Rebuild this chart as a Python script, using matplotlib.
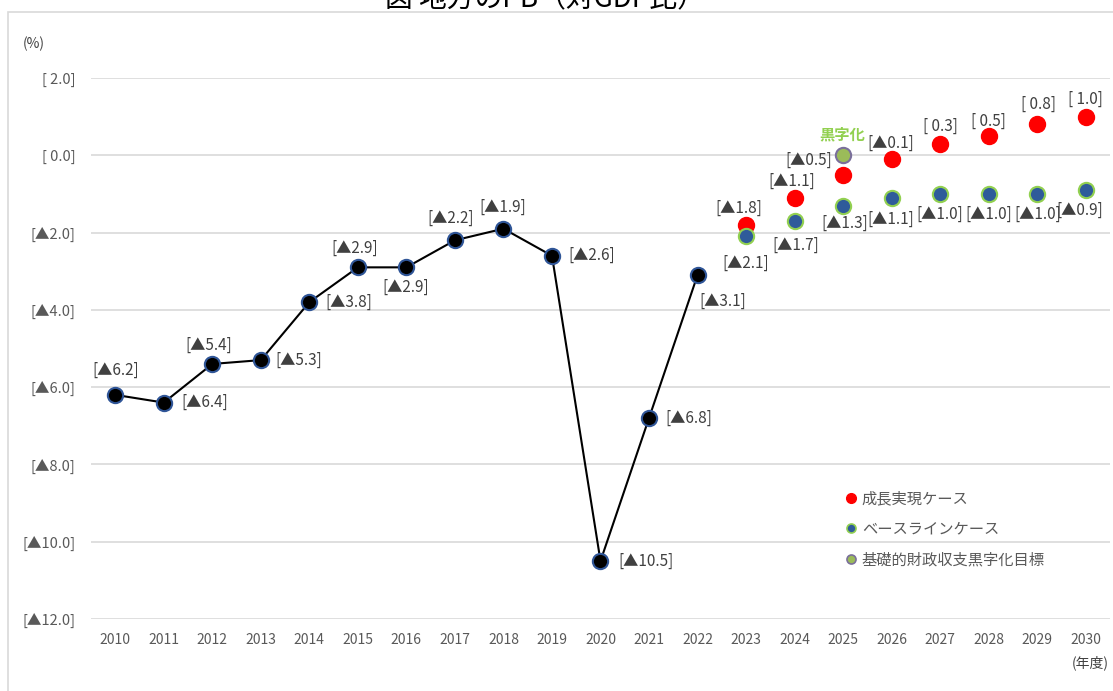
import matplotlib
matplotlib.use("Agg")
import matplotlib.pyplot as plt
from matplotlib.lines import Line2D
from matplotlib.patches import Rectangle

plt.rcParams['font.family'] = ['Noto Sans CJK JP', 'DejaVu Sans']

# ---- data ----
hist_years = list(range(2010, 2023))
hist_vals = [-6.2, -6.4, -5.4, -5.3, -3.8, -2.9, -2.9, -2.2, -1.9, -2.6, -10.5, -6.8, -3.1]
proj_years = list(range(2023, 2031))
growth_vals = [-1.8, -1.1, -0.5, -0.1, 0.3, 0.5, 0.8, 1.0]
base_vals = [-2.1, -1.7, -1.3, -1.1, -1.0, -1.0, -1.0, -0.9]
target_year = [2025]
target_val = [0.0]
legend_labels = ['成長実現ケース', 'ベースラインケース', '基礎的財政収支黒字化目標']
y_ticks = [2.0, 0.0, -2.0, -4.0, -6.0, -8.0, -10.0, -12.0]
title = '図 地方のPB（対GDP比）'

# label offsets (pixels: dx, dy with dy positive = up)
hist_off = [(0, 25), (41, 0), (-4, 19), (38, 0), (39, 0), (-3, 19), (-1, -20),
            (-4, 22), (-1, 21), (40, 0), (46, 0), (40, 0), (25, -26)]
growth_off = [(-7, 17), (-3, 16), (-34, 14), (-1, 16), (0, 17), (0, 15), (1, 20), (0, 17)]
base_off = [(0, -27), (1, -24), (2, -18), (-1, -22), (0, -20), (0, -20), (1, -20), (-6, -20)]

W, H = 1113, 691
fig = plt.figure(figsize=(W / 100, H / 100), dpi=100)
fig.patch.set_facecolor('white')

# outer frame (partially cropped)
fig.add_artist(Rectangle((8 / W, -0.1), 1.2, 1 - 12 / H + 0.1, transform=fig.transFigure,
                         fill=False, edgecolor='#d9d9d9', linewidth=1.2))

ax = fig.add_axes([91 / W, 1 - 619 / H, (1110 - 91) / W, (619 - 78) / H])
ax.set_xlim(2009.5, 2030.5)
ax.set_ylim(-12, 2)
for s in ax.spines.values():
    s.set_visible(False)
ax.set_yticks(y_ticks)

def fmt(v):
    if v < 0:
        return f'[▲{abs(v):.1f}]'
    return f'[ {v:.1f}]'

ax.set_yticklabels([fmt(v) for v in y_ticks], color='#595959', fontsize=10.5)
ax.set_xticks(hist_years + proj_years)
ax.set_xticklabels([str(y) for y in hist_years + proj_years], color='#595959', fontsize=10)
ax.tick_params(axis='both', length=0)
ax.tick_params(axis='y', pad=11)
ax.tick_params(axis='x', pad=10)
ax.grid(axis='y', color='#d9d9d9', linewidth=1.2)
ax.set_axisbelow(True)

ax.plot(hist_years, hist_vals, color='black', linewidth=1.5, marker='o', markersize=11,
        markerfacecolor='black', markeredgecolor='#2f5597', markeredgewidth=1.5, zorder=3)
ax.plot(proj_years, growth_vals, linestyle='none', marker='o', markersize=11.5,
        markerfacecolor='#ff0000', markeredgecolor='#ff0000', zorder=3)
ax.plot(proj_years, base_vals, linestyle='none', marker='o', markersize=11,
        markerfacecolor='#2f5b9a', markeredgecolor='#92d050', markeredgewidth=1.5, zorder=3)
ax.plot(target_year, target_val, linestyle='none', marker='o', markersize=11,
        markerfacecolor='#9bbb59', markeredgecolor='#7a6f9b', markeredgewidth=1.5, zorder=4)

def label(x, y, off):
    ax.annotate(fmt(y), (x, y), xytext=(off[0] * 0.72, off[1] * 0.72), textcoords='offset points',
                ha='center', va='center', fontsize=11, color='#404040', zorder=5)

for x, y, o in zip(hist_years, hist_vals, hist_off):
    label(x, y, o)
for x, y, o in zip(proj_years, growth_vals, growth_off):
    label(x, y, o)
for x, y, o in zip(proj_years, base_vals, base_off):
    label(x, y, o)

ax.annotate('黒字化', (target_year[0], target_val[0]), xytext=(-1 * 0.72, 21 * 0.72),
            textcoords='offset points', ha='center', va='center', fontsize=11,
            fontweight='bold', color='#92d050', zorder=5)

# axis unit labels
fig.text(34 / W, 1 - 44 / H, '(%)', ha='center', va='center', fontsize=10, color='#404040')
fig.text(1090 / W, 1 - 663 / H, '(年度)', ha='center', va='center', fontsize=10, color='#404040')

# title (cropped at top, as in the original)
fig.text(545 / W, 1 - 14 / H, title, ha='center', va='bottom', fontsize=20, color='black')

# legend
handles = [
    Line2D([], [], linestyle='none', marker='o', markersize=7, markerfacecolor='#ff0000',
           markeredgecolor='#ff0000'),
    Line2D([], [], linestyle='none', marker='o', markersize=6.5, markerfacecolor='#2f5b9a',
           markeredgecolor='#92d050', markeredgewidth=1.2),
    Line2D([], [], linestyle='none', marker='o', markersize=6.5, markerfacecolor='#9bbb59',
           markeredgecolor='#7a6f9b', markeredgewidth=1.2),
]
leg = fig.legend(handles, legend_labels, loc='upper left',
                 bbox_to_anchor=(845 / W, 1 - 490 / H), frameon=False,
                 fontsize=11, handlelength=0.8, handletextpad=0.3, labelspacing=0.9,
                 borderaxespad=0, borderpad=0)
for t in leg.get_texts():
    t.set_color('#595959')

fig.savefig('out.png', dpi=100, facecolor='white')
